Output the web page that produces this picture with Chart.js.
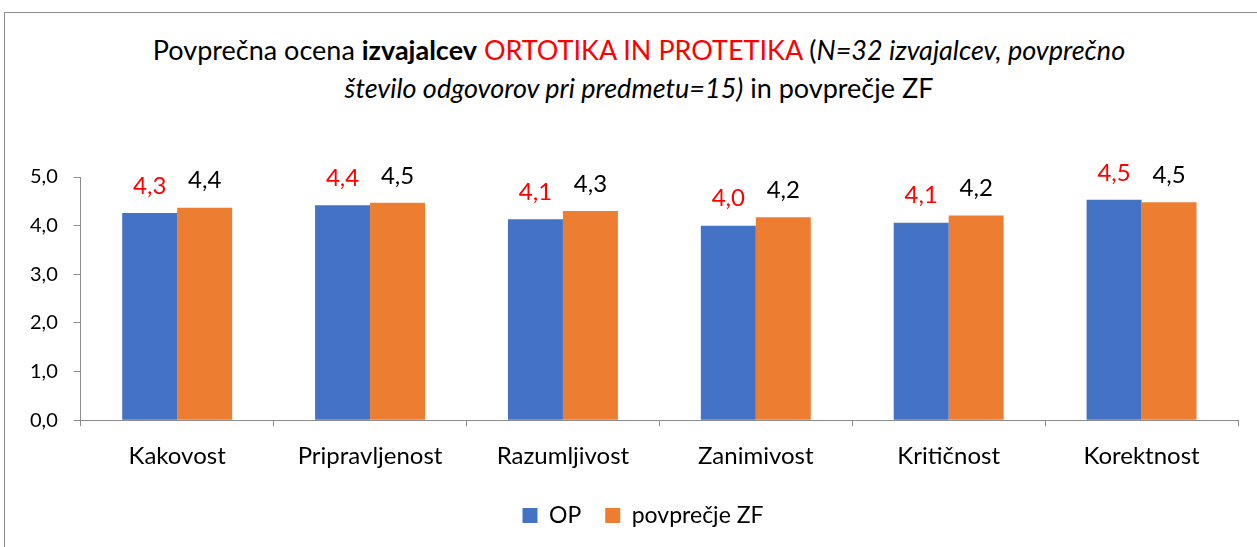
<!DOCTYPE html>
<html>
<head>
<meta charset="utf-8">
<script src="https://cdn.jsdelivr.net/npm/chart.js@4"></script>
<style>
  body { margin: 0; background: #fff; font-family: Lato, "Open Sans", sans-serif; }
  #wrap { position: relative; width: 1257px; height: 547px; overflow: hidden; }
  #frame { position: absolute; left: 4px; top: 12px; width: 1300px; height: 600px; border: 1px solid #8c8c8c; }
  #title { position: absolute; left: 0; top: 31px; width: 1278px; text-align: center; font-size: 27px; line-height: 38px; color: #000; }
  #title .red { color: #ff0000; }
  canvas { position: absolute; left: 0; top: 0; }
</style>
</head>
<body>
<div id="wrap">
  <div id="frame"></div>
  <div id="title">Povprečna ocena <b>izvajalcev</b> <span class="red">ORTOTIKA IN PROTETIKA</span> (<i>N=32 izvajalcev, povprečno<br>število odgovorov pri predmetu=15)</i> in povprečje ZF</div>
  <canvas id="chart" width="1257" height="547"></canvas>
</div>
<script>
const categories = ['Kakovost', 'Pripravljenost', 'Razumljivost', 'Zanimivost', 'Kritičnost', 'Korektnost'];
const opValues = [4.26, 4.42, 4.13, 4.00, 4.06, 4.53];
const zfValues = [4.37, 4.47, 4.30, 4.17, 4.21, 4.48];
const seriesNames = ['OP', 'povprečje ZF'];
const labelColors = ['#ff0000', '#000000'];

function fmt(v) {
    return v.toFixed(1).replace('.', ',');
}

// draws the value above each bar
const valueLabels = {
    id: 'valueLabels',
    afterDatasetsDraw(chart) {
        const ctx = chart.ctx;
        ctx.save();
        ctx.font = '24px Lato, "Open Sans", sans-serif';
        ctx.textAlign = 'center';
        ctx.textBaseline = 'middle';
        chart.data.datasets.forEach((ds, i) => {
            const meta = chart.getDatasetMeta(i);
            ctx.fillStyle = labelColors[i];
            meta.data.forEach((bar, j) => {
                ctx.fillText(fmt(ds.data[j]), bar.x, bar.y - 27);
            });
        });
        ctx.restore();
    }
};

// legend sits a bit right of the canvas centre in the original
const legendShift = {
    id: 'legendShift',
    afterLayout(chart) {
        chart.legend.left += 17;
        chart.legend.right += 17;
    }
};

const ctx = document.getElementById('chart');
let chart = new Chart(ctx, {
    type: 'bar',
    data: {
        labels: categories,
        datasets: [
            { label: seriesNames[0], data: opValues, backgroundColor: '#4472c4' },
            { label: seriesNames[1], data: zfValues, backgroundColor: '#ed7d31' }
        ]
    },
    options: {
        responsive: false,
        animation: false,
        layout: { padding: { left: 14, right: 19, top: 177, bottom: 10 } },
        datasets: { bar: { barPercentage: 1, categoryPercentage: 0.57 } },
        scales: {
            x: {
                grid: { display: true, drawOnChartArea: false, drawTicks: true, tickLength: 6, color: '#8c8c8c' },
                border: { display: true, color: '#8c8c8c', width: 1 },
                ticks: { color: '#000', font: { size: 24, family: 'Lato' }, padding: 16 },
                afterFit: axis => { axis.height -= 7; }
            },
            y: {
                min: 0,
                max: 5,
                grid: { display: true, drawOnChartArea: false, drawTicks: true, tickLength: 7, color: '#8c8c8c' },
                border: { display: true, color: '#8c8c8c', width: 1 },
                ticks: { stepSize: 1, color: '#000', font: { size: 20, family: 'Lato' }, padding: 16, callback: v => fmt(v) }
            }
        },
        plugins: {
            title: { display: false },
            tooltip: { enabled: false },
            legend: {
                position: 'bottom',
                labels: { boxWidth: 15, boxHeight: 15, padding: 24, color: '#000', font: { size: 23, family: 'Lato' } }
            }
        }
    },
    plugins: [valueLabels, legendShift]
});
</script>
</body>
</html>
